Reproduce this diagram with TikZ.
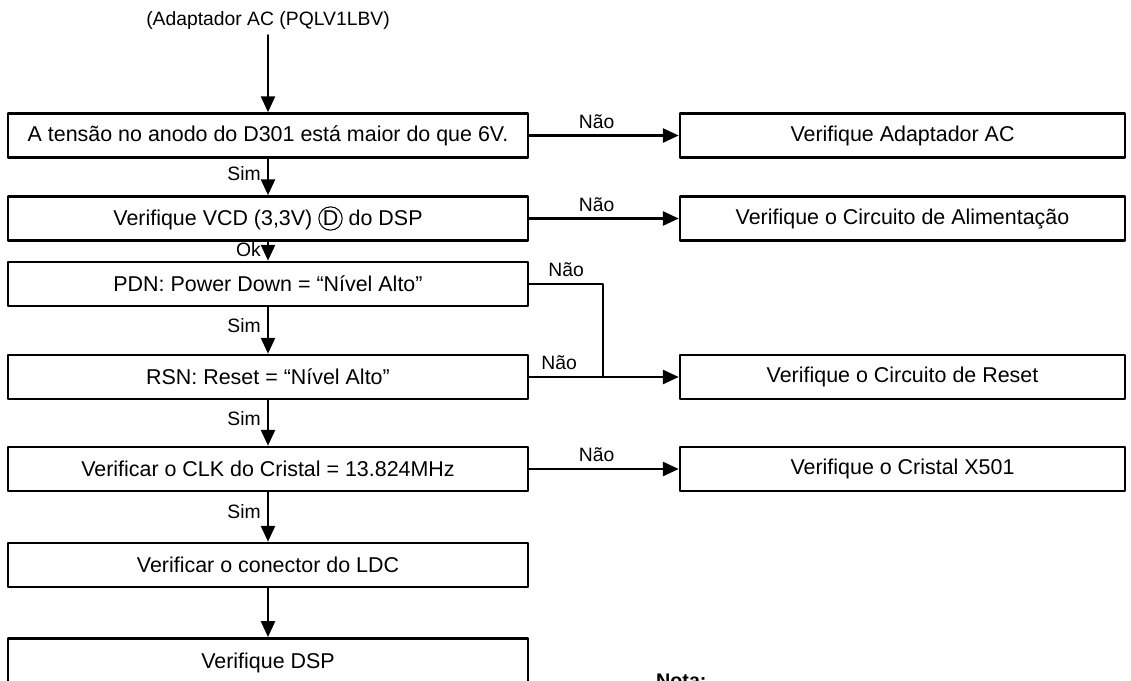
\documentclass[tikz,border=0pt]{standalone}
\usepackage{fontspec}
\setmainfont{Liberation Sans}
\usetikzlibrary{arrows.meta}

\tikzset{
  chkbox/.style={draw,line width=1.5pt,minimum width=10.4cm,minimum height=0.88cm,
    inner sep=2pt,font=\fontsize{12.2}{14}\selectfont},
  fixbox/.style={chkbox,minimum width=8.9cm},
  lbl/.style={font=\fontsize{11}{13}\selectfont,inner sep=3.5pt},
  flow/.style={line width=1.3pt,-{Triangle[length=9pt,width=8pt]}},
  wire/.style={line width=1.3pt}
}
\newcommand{\circD}{\tikz[baseline=(cd.base)]\node[draw,circle,line width=0.6pt,
  inner sep=0.4pt,minimum size=0pt,anchor=center] (cd) {D};}

\begin{document}
\begin{tikzpicture}[x=0.02cm,y=-0.02cm,line cap=round,line join=round]
  \useasboundingbox (0,0) rectangle (1131,680);

  % left column
  \node[font=\fontsize{11}{13}\selectfont] (src) at (268,20) {(Adaptador AC (PQLV1LBV)};
  \node[chkbox] (b1) at (268,135.5) {A tensão no anodo do D301 está maior do que 6V.};
  \node[chkbox] (b2) at (268,218.5) {Verifique VCD (3,3V) \circD\ do DSP};
  \node[chkbox] (b3) at (268,284) {PDN: Power Down = “Nível Alto”};
  \node[chkbox] (b4) at (268,377) {RSN: Reset = “Nível Alto”};
  \node[chkbox] (b5) at (268,469) {Verificar o CLK do Cristal = 13.824MHz};
  \node[chkbox] (b6) at (268,565) {Verificar o conector do LDC};
  \node[chkbox,minimum height=1cm,anchor=north] (b7) at (268,637) {Verifique DSP};

  % right column
  \node[fixbox] (r1) at (902.5,135.5) {Verifique Adaptador AC};
  \node[fixbox] (r2) at (902.5,218.5) {Verifique o Circuito de Alimentação};
  \node[fixbox] (r4) at (902.5,377) {Verifique o Circuito de Reset};
  \node[fixbox] (r5) at (902.5,469) {Verifique o Cristal X501};

  \node[font=\bfseries\fontsize{11.2}{13}\selectfont,anchor=north west] (nota) at (650,668) {Nota:};

  \coordinate (j) at (603,377);

  \draw[flow] (src) -- (b1);
  \foreach \a/\b/\t in {b1/b2/Sim,b2/b3/Ok,b3/b4/Sim,b4/b5/Sim,b5/b6/Sim} {
    \draw[flow] (\a) -- node[lbl,left,pos=0.4] {\t} (\b);
  }
  \draw[flow] (b6) -- (b7);

  \foreach \a/\b in {b1/r1,b2/r2,b5/r5} {
    \draw[flow] (\a) -- node[lbl,above,pos=0.45] {Não} (\b);
  }
  \draw[wire] (b3.east) -| node[lbl,above,pos=0.25] {Não} (j);
  \draw[flow] (b4) -- node[lbl,above,pos=0.2] {Não} (r4);
\end{tikzpicture}
\end{document}
